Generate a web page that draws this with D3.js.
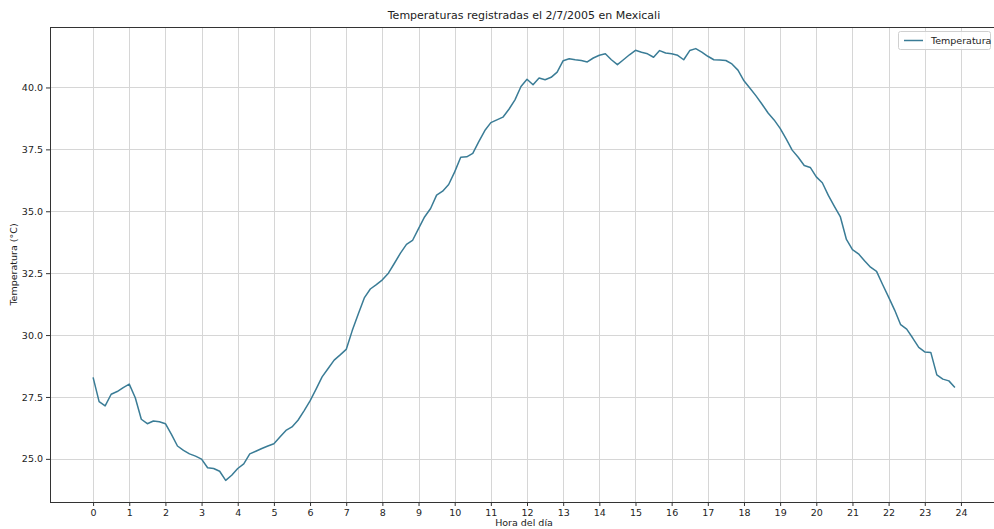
<!DOCTYPE html>
<html>
<head>
<meta charset="utf-8">
<script src="https://cdn.jsdelivr.net/npm/d3@7"></script>
<style>
  html, body { margin: 0; padding: 0; background: #fff; }
  svg { display: block; font-family: "DejaVu Sans", sans-serif; }
</style>
</head>
<body>
<svg id="chart" width="994" height="529"></svg>
<script>
// ---- Data ----
const title = "Temperaturas registradas el 2/7/2005 en Mexicali";
const xLabel = "Hora del día";
const yLabel = "Temperatura (°C)";
const seriesName = "Temperatura";
const stepMinutes = 10; // one reading every 10 minutes, starting at 00:00
const temperatures = [
  28.29, 27.31, 27.14, 27.61, 27.72, 27.88,
  28.02, 27.47, 26.60, 26.42, 26.53, 26.50,
  26.42, 25.99, 25.52, 25.34, 25.20, 25.11,
  24.99, 24.64, 24.61, 24.50, 24.13, 24.34,
  24.61, 24.80, 25.20, 25.31, 25.42, 25.52,
  25.61, 25.88, 26.15, 26.29, 26.56, 26.94,
  27.34, 27.82, 28.31, 28.65, 28.99, 29.20,
  29.42, 30.18, 30.85, 31.50, 31.86, 32.04,
  32.23, 32.50, 32.90, 33.31, 33.66, 33.82,
  34.30, 34.77, 35.11, 35.65, 35.81, 36.08,
  36.59, 37.18, 37.20, 37.34, 37.81, 38.26,
  38.58, 38.69, 38.80, 39.12, 39.50, 40.04,
  40.33, 40.11, 40.38, 40.31, 40.41, 40.62,
  41.08, 41.16, 41.12, 41.09, 41.03, 41.19,
  41.30, 41.36, 41.12, 40.92, 41.12, 41.32,
  41.50, 41.42, 41.36, 41.22, 41.49, 41.39,
  41.36, 41.30, 41.12, 41.49, 41.57, 41.43,
  41.26, 41.12, 41.11, 41.09, 40.95, 40.70,
  40.27, 39.97, 39.66, 39.32, 38.97, 38.69,
  38.35, 37.92, 37.47, 37.18, 36.85, 36.77,
  36.39, 36.15, 35.64, 35.20, 34.77, 33.86,
  33.45, 33.28, 33.00, 32.74, 32.57, 32.04,
  31.53, 31.01, 30.42, 30.24, 29.88, 29.50,
  29.32, 29.30, 28.39, 28.22, 28.15, 27.88
];
const xTicks = [0,1,2,3,4,5,6,7,8,9,10,11,12,13,14,15,16,17,18,19,20,21,22,23,24];
const yTicks = [25.0, 27.5, 30.0, 32.5, 35.0, 37.5, 40.0];

const data = temperatures.map((t, i) => ({ hour: i * stepMinutes / 60, temp: t }));

// ---- Layout ----
const svg = d3.select("#chart");
const margin = { left: 50, top: 27, right: 998, bottom: 502 };

const xExt = d3.extent(data, d => d.hour);
const yExt = d3.extent(data, d => d.temp);
const xPad = (xExt[1] - xExt[0]) * 0.05;
const yPad = (yExt[1] - yExt[0]) * 0.05;

const x = d3.scaleLinear().domain([xExt[0] - xPad, xExt[1] + xPad]).range([margin.left, margin.right]);
const y = d3.scaleLinear().domain([yExt[0] - yPad, yExt[1] + yPad]).range([margin.bottom, margin.top]);

// grid
const grid = svg.append("g").attr("stroke", "#d6d6d6").attr("stroke-width", 1);
grid.selectAll("line.v").data(xTicks).join("line")
  .attr("x1", d => Math.round(x(d)) + 0.5).attr("x2", d => Math.round(x(d)) + 0.5)
  .attr("y1", margin.top).attr("y2", margin.bottom);
grid.selectAll("line.h").data(yTicks).join("line")
  .attr("x1", margin.left).attr("x2", margin.right)
  .attr("y1", d => Math.round(y(d)) + 0.5).attr("y2", d => Math.round(y(d)) + 0.5);

// line
const line = d3.line().x(d => x(d.hour)).y(d => y(d.temp));
svg.append("path").datum(data)
  .attr("fill", "none")
  .attr("stroke", "#3a7c96")
  .attr("stroke-width", 1.5)
  .attr("stroke-linejoin", "round")
  .attr("d", line);

// axes
const xAxis = d3.axisBottom(x).tickValues(xTicks).tickFormat(d3.format("d")).tickSize(4).tickPadding(3);
const yAxis = d3.axisLeft(y).tickValues(yTicks).tickFormat(d3.format(".1f")).tickSize(4).tickPadding(3);

const gx = svg.append("g").attr("transform", `translate(0,${margin.bottom})`).call(xAxis);
const gy = svg.append("g").attr("transform", `translate(${margin.left},0)`).call(yAxis);
[gx, gy].forEach(g => {
  g.select(".domain").remove();
  g.selectAll(".tick line").attr("stroke", "#333");
  g.selectAll(".tick text").attr("fill", "#222").style("font-size", "9.5px").style("font-family", "DejaVu Sans, sans-serif");
});

// spines
svg.append("rect")
  .attr("x", margin.left + 0.5).attr("y", margin.top + 0.5)
  .attr("width", margin.right - margin.left).attr("height", margin.bottom - margin.top)
  .attr("fill", "none").attr("stroke", "#333").attr("stroke-width", 1);

// title & labels
svg.append("text").attr("x", (margin.left + margin.right) / 2).attr("y", 19)
  .attr("text-anchor", "middle").style("font-size", "11px").attr("fill", "#222").text(title);
svg.append("text").attr("x", (margin.left + margin.right) / 2).attr("y", 526)
  .attr("text-anchor", "middle").style("font-size", "9.5px").attr("fill", "#222").text(xLabel);
svg.append("text")
  .attr("transform", `translate(17,${(margin.top + margin.bottom) / 2}) rotate(-90)`)
  .attr("text-anchor", "middle").style("font-size", "9.5px").attr("fill", "#222").text(yLabel);

// legend
const lg = svg.append("g").attr("transform", "translate(898,31)");
lg.append("rect").attr("x", 0.5).attr("y", 0.5).attr("width", 92).attr("height", 18)
  .attr("rx", 2).attr("fill", "#fff").attr("fill-opacity", 0.8).attr("stroke", "#d0d0d0");
lg.append("line").attr("x1", 6).attr("x2", 25).attr("y1", 9.5).attr("y2", 9.5)
  .attr("stroke", "#3a7c96").attr("stroke-width", 1.5);
lg.append("text").attr("x", 33).attr("y", 13).style("font-size", "9.5px").attr("fill", "#222").text(seriesName);
</script>
</body>
</html>
